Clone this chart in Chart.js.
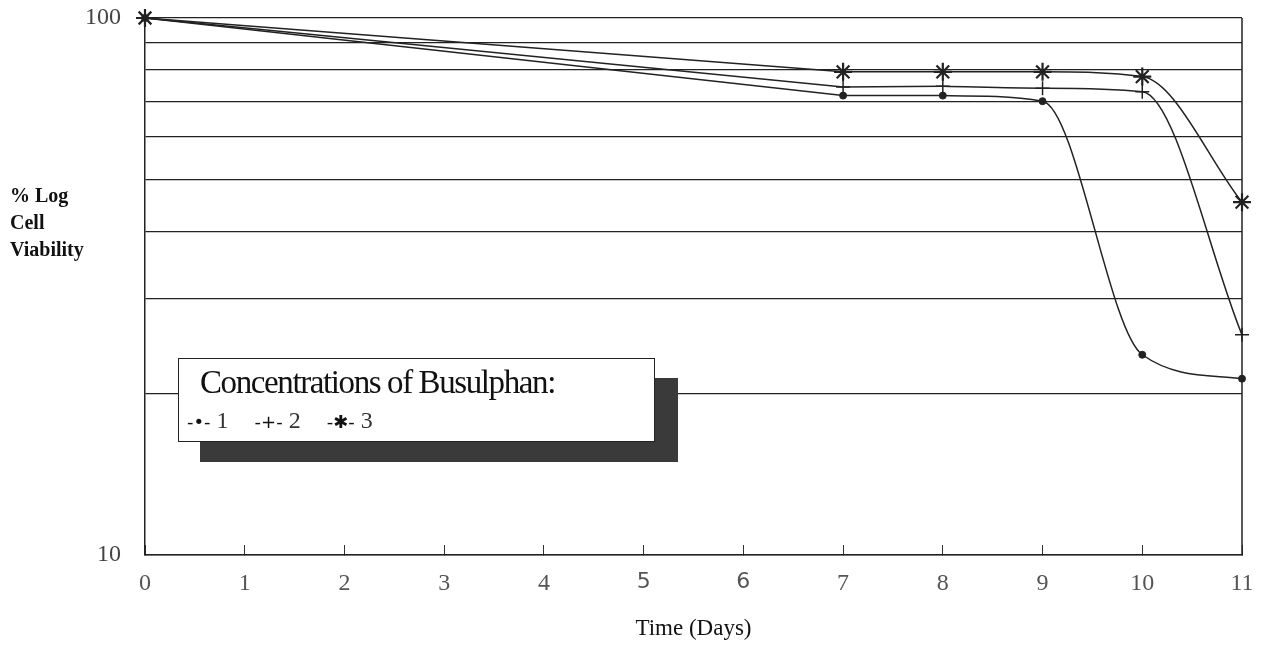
<!DOCTYPE html>
<html lang="en">
<head>
<meta charset="UTF-8">
<title>Busulphan Cell Viability</title>
<style>
    body { margin: 0; background: #fff; }
    #wrap { position: relative; width: 1265px; height: 647px; }
    .ylab {
        position: absolute; left: 10px;
        font-family: "Liberation Serif", "DejaVu Serif", serif;
        font-weight: bold; font-size: 20px; color: #111;
    }
    #legend-shadow {
        position: absolute; left: 200px; top: 378px; width: 478px; height: 84px;
        background: #3a3a3a;
    }
    #legend {
        position: absolute; left: 178px; top: 358px; width: 475px; height: 82px;
        background: #fff; border: 1px solid #222;
        font-family: "Liberation Serif", "DejaVu Serif", serif; color: #111;
    }
    #legend .title { position: absolute; left: 21px; top: 5px; font-size: 33px; letter-spacing: -1.4px; }
    #legend .items { position: absolute; left: 8px; top: 48px; font-size: 24px; color: #333; }
    #legend .items span.it { margin-right: 26px; }
    #legend .mk { font-family: "DejaVu Sans", sans-serif; font-size: 18px; color: #111; }
</style>
</head>
<body>
<div id="wrap">
    <canvas id="chart" width="1265" height="647"></canvas>
    <div class="ylab" style="top:184px">% Log</div>
    <div class="ylab" style="top:211px">Cell</div>
    <div class="ylab" style="top:238px">Viability</div>
    <div id="legend-shadow"></div>
    <div id="legend">
        <div class="title">Concentrations of Busulphan:</div>
        <div class="items" id="legend-items"></div>
    </div>
</div>
<script src="https://cdn.jsdelivr.net/npm/chart.js"></script>
<script>
// days sampled and % viability per busulphan concentration
const days = [0, 7, 8, 9, 10, 11];
const conc1 = [100, 71.7, 71.7, 70.0, 23.6, 21.3];
const conc2 = [100, 74.4, 74.6, 74.0, 72.9, 25.7];
const conc3 = [100, 79.4, 79.4, 79.4, 77.8, 45.4];
const seriesLabels = ['1', '2', '3'];
const yTicks = [10, 20, 30, 40, 50, 60, 70, 80, 90, 100];
const xTicks = [0, 1, 2, 3, 4, 5, 6, 7, 8, 9, 10, 11];

// the early part of each curve is drawn straight, the late part smoothed
const SPLIT = 2;
const pts = (arr, from, to) => days.slice(from, to).map((d, i) => ({ x: d, y: arr[from + i] }));

const styles = [
    { pointStyle: 'circle', pointRadius: 3.5, pointBorderWidth: 1, pointBackgroundColor: '#222' },
    { pointStyle: 'cross', pointRadius: 7, pointBorderWidth: 1.5 },
    { pointStyle: 'star', pointRadius: 9, pointBorderWidth: 2.2 }
];

const datasets = [];
[conc1, conc2, conc3].forEach((arr, k) => {
    const st = styles[k];
    datasets.push(Object.assign({}, st, {
        label: seriesLabels[k], data: pts(arr, 0, SPLIT + 1), tension: 0,
        borderColor: '#222', borderWidth: 1.5, clip: false
    }));
    datasets.push(Object.assign({}, st, {
        label: seriesLabels[k], data: pts(arr, SPLIT, days.length),
        cubicInterpolationMode: 'monotone',
        pointRadius: c => c.dataIndex === 0 ? 0 : st.pointRadius,
        borderColor: '#222', borderWidth: 1.5, clip: false
    }));
});

// legend markers
const marks = ['-\u2022-', '-+-', '-\u2731-'];
document.getElementById('legend-items').innerHTML = seriesLabels
    .map((l, i) => `<span class="it"><span class="mk">${marks[i]}</span> ${l}</span>`).join('');

const frame = {
    id: 'frame',
    afterDraw(chart) {
        const { ctx, chartArea: a } = chart;
        ctx.save();
        ctx.strokeStyle = '#222';
        ctx.lineWidth = 1.5;
        ctx.beginPath();
        ctx.moveTo(a.right, a.top);
        ctx.lineTo(a.right, a.bottom);
        ctx.stroke();
        ctx.restore();
    }
};

const serif = '"Liberation Serif", "DejaVu Serif", serif';

new Chart(document.getElementById('chart'), {
    type: 'line',
    data: { datasets },
    options: {
        responsive: false,
        animation: false,
        layout: { padding: { top: 18, right: 23, left: 0, bottom: 0 } },
        plugins: { legend: { display: false }, tooltip: { enabled: false } },
        scales: {
            x: {
                type: 'linear', min: 0, max: 11,
                afterBuildTicks: s => { s.ticks = xTicks.map(v => ({ value: v })); },
                afterFit: s => { s.height = 92; s.paddingLeft = 0; s.paddingRight = 0; },
                grid: { drawOnChartArea: false, tickLength: -10, color: '#333', lineWidth: 1 },
                border: { color: '#222', width: 1.5 },
                ticks: {
                    padding: 24, color: '#555',
                    font: c => (c.tick && (c.tick.value === 5 || c.tick.value === 6))
                        ? { family: '"DejaVu Sans", sans-serif', size: 22 }
                        : { family: serif, size: 24 }
                },
                title: { display: true, text: 'Time (Days)', color: '#111',
                         font: { family: serif, size: 23 }, padding: { top: 10 } }
            },
            y: {
                type: 'logarithmic', min: 10, max: 100,
                afterBuildTicks: s => { s.ticks = yTicks.map(v => ({ value: v })); },
                afterFit: s => { s.width = 145; s.paddingTop = 0; s.paddingBottom = 0; },
                grid: { color: '#222', lineWidth: 1.3, drawTicks: false },
                border: { color: '#222', width: 1.5 },
                ticks: {
                    padding: 24, color: '#444', font: { family: serif, size: 24 },
                    callback: v => (v === 10 || v === 100) ? String(v) : ''
                }
            }
        }
    },
    plugins: [frame]
});
</script>
</body>
</html>
